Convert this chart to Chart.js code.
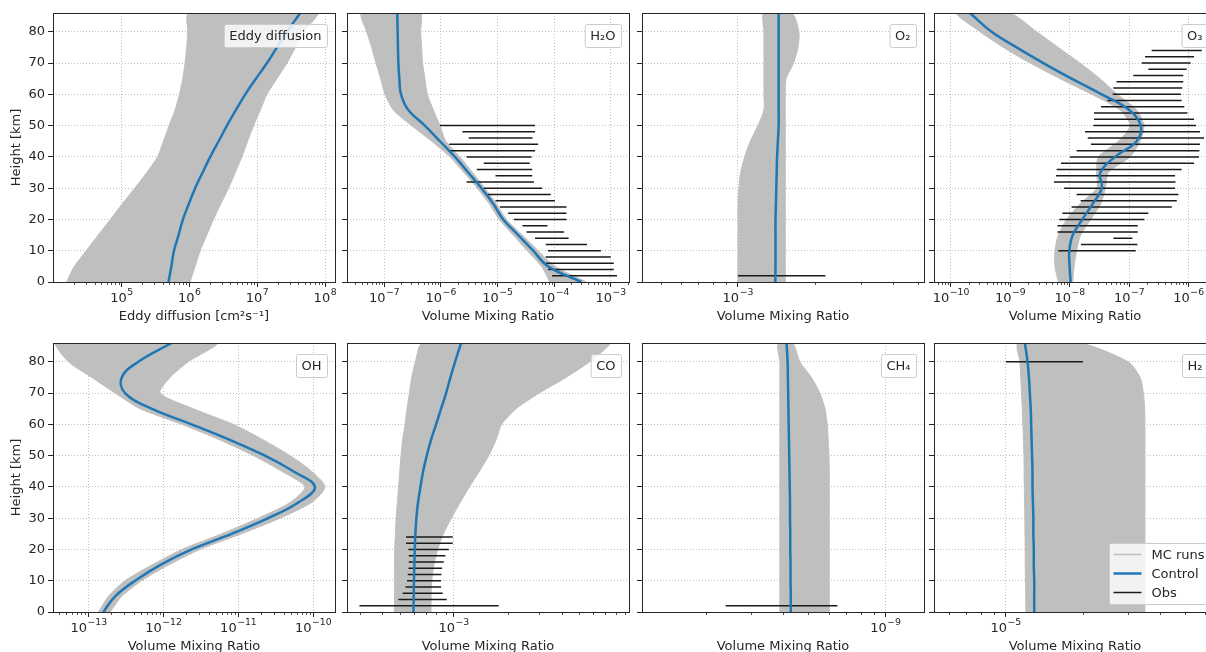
<!DOCTYPE html>
<html>
<head>
<meta charset="utf-8">
<script src="https://cdn.jsdelivr.net/npm/chart.js@4.4.0/dist/chart.umd.min.js"></script>
<style>
  body { margin: 0; background: #fff; overflow: hidden; }
  #fig { position: relative; width: 1206px; height: 652px; overflow: hidden; }
  #fig canvas { position: absolute; }
</style>
</head>
<body>
<div id="fig"></div>
<script>
// heights of the model levels [km]
var H = [0, 5, 10, 15, 20, 25, 30, 35, 40, 45, 50, 55, 60, 65, 70, 75, 80, 86];
var heightTicks = [0, 10, 20, 30, 40, 50, 60, 70, 80];

// eddy diffusion [cm2 s-1]: spread of MC runs + control run
var eddyLow  = [1.54e4, 2.0e4, 3.0e4, 4.5e4, 6.8e4, 1.02e5, 1.56e5, 2.34e5, 3.37e5, 4.13e5, 5.0e5, 6.14e5, 7.1e5, 7.96e5, 8.6e5, 9.1e5, 9.4e5, 9.8e5];
var eddyHigh = [1.02e6, 1.21e6, 1.44e6, 1.80e6, 2.26e6, 2.9e6, 3.77e6, 4.73e6, 5.93e6, 7.2e6, 8.83e6, 1.11e7, 1.39e7, 1.95e7, 2.74e7, 3.65e7, 4.84e7, 7.6e7];
var eddyCtrl = [4.9e5, 5.4e5, 5.9e5, 6.9e5, 8.0e5, 9.8e5, 1.21e6, 1.56e6, 2.02e6, 2.69e6, 3.56e6, 4.84e6, 6.65e6, 9.55e6, 1.39e7, 1.95e7, 2.74e7, 4.3e7];
var eddyTicks = [1e5, 1e6, 1e7, 1e8];

// H2O
var h2oLow  = [8.4e-5, 5.97e-5, 3.34e-5, 1.89e-5, 1.07e-5, 7.13e-6, 4.38e-6, 2.55e-6, 1.44e-6, 6.84e-7, 3.03e-7, 1.44e-7, 1.03e-7, 8.61e-8, 7.13e-8, 5.97e-8, 4.88e-8, 3.98e-8];
var h2oHigh = [3.72e-4, 1.03e-4, 5.22e-5, 2.76e-5, 1.44e-5, 9.6e-6, 5.97e-6, 3.62e-6, 2.16e-6, 1.22e-6, 9.6e-7, 7.33e-7, 5.74e-7, 5.22e-7, 4.74e-7, 4.56e-7, 4.38e-7, 4.26e-7];
var h2oCtrl = [3.03e-4, 7.8e-5, 4.26e-5, 2.32e-5, 1.26e-5, 8.4e-6, 5.2e-6, 3.03e-6, 1.77e-6, 9.6e-7, 5.2e-7, 2.65e-7, 1.97e-7, 1.84e-7, 1.77e-7, 1.74e-7, 1.72e-7, 1.69e-7];
var h2oObsH  = [2, 4, 6, 8, 10, 12, 14, 16, 18, 20, 22, 24, 26, 28, 30, 32, 34, 36, 38, 40, 42, 44, 46, 48, 50];
var h2oObsLo = [9.2e-5, 7.8e-5, 7.1e-5, 7.1e-5, 7.8e-5, 7.1e-5, 4.6e-5, 3.25e-5, 2.76e-5, 1.94e-5, 1.54e-5, 1.10e-5, 9.2e-6, 6.8e-6, 5.7e-6, 2.84e-6, 9.2e-6, 4.3e-6, 5.7e-6, 2.84e-6, 1.35e-6, 1.40e-6, 3.1e-6, 2.4e-6, 9.6e-7];
var h2oObsHi = [1.29e-3, 1.13e-3, 1.13e-3, 1.0e-3, 6.7e-4, 3.8e-4, 1.8e-4, 1.5e-4, 7.6e-5, 1.65e-4, 1.65e-4, 1.65e-4, 1.03e-4, 8.7e-5, 6.1e-5, 4.4e-5, 4.1e-5, 4.1e-5, 3.7e-5, 4.0e-5, 4.6e-5, 5.2e-5, 4.15e-5, 4.6e-5, 4.6e-5];
var h2oTicks = [1e-7, 1e-6, 1e-5, 1e-4, 1e-3];

// O2
var o2Low  = [1.0e-3, 1.0e-3, 1.0e-3, 1.0e-3, 1.0e-3, 1.0e-3, 1.009e-3, 1.024e-3, 1.062e-3, 1.117e-3, 1.196e-3, 1.262e-3, 1.262e-3, 1.262e-3, 1.262e-3, 1.262e-3, 1.262e-3, 1.262e-3];
var o2High = [1.528e-3, 1.528e-3, 1.528e-3, 1.528e-3, 1.528e-3, 1.528e-3, 1.528e-3, 1.528e-3, 1.528e-3, 1.528e-3, 1.528e-3, 1.528e-3, 1.528e-3, 1.54e-3, 1.646e-3, 1.712e-3, 1.727e-3, 1.62e-3];
var o2Ctrl = [1.397e-3, 1.40e-3, 1.40e-3, 1.40e-3, 1.40e-3, 1.405e-3, 1.41e-3, 1.415e-3, 1.42e-3, 1.43e-3, 1.44e-3, 1.44e-3, 1.44e-3, 1.44e-3, 1.44e-3, 1.44e-3, 1.44e-3, 1.44e-3];
var o2ObsH = [2], o2ObsLo = [1.0e-3], o2ObsHi = [2.19e-3];
var o2Ticks = [1e-3];

// O3
var o3Low  = [6.4e-9, 5.62e-9, 5.62e-9, 6.4e-9, 8.85e-9, 1.48e-8, 2.83e-8, 2.83e-8, 3.02e-8, 6.55e-8, 1.03e-7, 6.98e-8, 2.33e-8, 6.84e-9, 2.14e-9, 7.6e-10, 3.08e-10, 1.25e-10];
var o3High = [1.12e-8, 1.18e-8, 1.30e-8, 1.52e-8, 2.24e-8, 3.31e-8, 3.96e-8, 4.44e-8, 1.03e-7, 1.52e-7, 1.77e-7, 1.33e-7, 6.3e-8, 3.22e-8, 1.48e-8, 6.4e-9, 2.77e-9, 9.6e-10];
var o3Ctrl = [1.03e-8, 9.9e-9, 9.8e-9, 1.12e-8, 1.62e-8, 2.42e-8, 3.44e-8, 3.26e-8, 5.75e-8, 1.33e-7, 1.56e-7, 1.0e-7, 3.44e-8, 1.07e-8, 3.58e-9, 1.27e-9, 4.83e-10, 2.09e-10];
var o3ObsH  = [10, 12, 14, 16, 18, 20, 22, 24, 26, 28, 30, 32, 34, 36, 38, 40, 42, 44, 46, 48, 50, 52, 54, 56, 58, 60, 62, 64, 66, 68, 70, 72, 74];
var o3ObsLo = [6.4e-9, 1.54e-8, 5.4e-8, 6.2e-9, 6.2e-9, 6.65e-9, 7.5e-9, 1.07e-8, 1.52e-8, 1.30e-8, 8.0e-9, 5.4e-9, 5.85e-9, 6.0e-9, 7.1e-9, 1.01e-8, 1.30e-8, 2.27e-8, 2.0e-8, 1.80e-8, 2.49e-8, 2.55e-8, 2.55e-8, 3.35e-8, 4.28e-8, 5.26e-8, 5.4e-8, 6.1e-8, 1.17e-7, 2.09e-7, 1.62e-7, 1.84e-7, 2.38e-7];
var o3ObsHi = [1.28e-7, 1.37e-7, 1.13e-7, 1.39e-7, 1.39e-7, 1.79e-7, 2.09e-7, 5.2e-7, 6.3e-7, 6.7e-7, 5.9e-7, 6.0e-7, 5.9e-7, 7.6e-7, 1.23e-6, 1.49e-6, 1.51e-6, 1.55e-6, 1.81e-6, 1.55e-6, 1.33e-6, 1.23e-6, 9.5e-7, 8.45e-7, 7.6e-7, 7.4e-7, 7.8e-7, 8.1e-7, 8.1e-7, 9.25e-7, 1.08e-6, 1.23e-6, 1.66e-6];
var o3Ticks = [1e-10, 1e-9, 1e-8, 1e-7, 1e-6];

// OH
var ohLow  = [1.35e-13, 1.83e-13, 3.05e-13, 6.93e-13, 1.75e-12, 5.97e-12, 1.84e-11, 4.88e-11, 7.73e-11, 3.78e-11, 1.58e-11, 5.66e-12, 1.75e-12, 4.84e-13, 2.25e-13, 1.10e-13, 5.36e-14, 3.56e-14];
var ohHigh = [1.93e-13, 2.76e-13, 5.1e-13, 1.16e-12, 3.06e-12, 1.10e-11, 3.59e-11, 9.48e-11, 1.43e-10, 9.48e-11, 4.88e-11, 2.15e-11, 8.53e-12, 2.49e-12, 8.96e-13, 1.22e-12, 2.14e-12, 5.12e-12];
var ohCtrl = [1.57e-13, 2.25e-13, 4.16e-13, 8.96e-13, 2.37e-12, 8.1e-12, 2.5e-11, 6.3e-11, 1.05e-10, 5.4e-11, 2.26e-11, 7.7e-12, 2.37e-12, 6.9e-13, 3.05e-13, 2.76e-13, 4.6e-13, 1.28e-12];
var ohTicks = [1e-13, 1e-12, 1e-11, 1e-10];

// CO
var coLow  = [4.67e-4, 4.67e-4, 4.67e-4, 4.67e-4, 4.68e-4, 4.73e-4, 4.77e-4, 4.85e-4, 4.93e-4, 5.0e-4, 5.08e-4, 5.19e-4, 5.35e-4, 5.49e-4, 5.66e-4, 5.83e-4, 6.11e-4, 6.72e-4];
var coHigh = [7.47e-4, 7.47e-4, 7.54e-4, 7.74e-4, 8.14e-4, 8.76e-4, 9.70e-4, 1.085e-3, 1.223e-3, 1.39e-3, 1.567e-3, 1.72e-3, 1.85e-3, 2.23e-3, 3.0e-3, 4.23e-3, 5.71e-3, 7.31e-3];
var coCtrl = [5.96e-4, 5.98e-4, 6.0e-4, 6.03e-4, 6.06e-4, 6.11e-4, 6.19e-4, 6.32e-4, 6.52e-4, 6.75e-4, 7.07e-4, 7.47e-4, 7.97e-4, 8.50e-4, 9.06e-4, 9.58e-4, 1.017e-3, 1.099e-3];
var coObsH  = [2, 4, 6, 8, 10, 12, 14, 16, 18, 20, 22, 24];
var coObsLo = [2.98e-4, 4.91e-4, 5.19e-4, 5.38e-4, 5.49e-4, 5.54e-4, 5.59e-4, 5.61e-4, 5.61e-4, 5.59e-4, 5.42e-4, 5.42e-4];
var coObsHi = [1.78e-3, 9.14e-4, 8.68e-4, 8.50e-4, 8.50e-4, 8.54e-4, 8.61e-4, 8.80e-4, 8.98e-4, 9.38e-4, 9.87e-4, 9.87e-4];
var coTicks = [1e-3];

// CH4
var ch4Low  = [3.88e-10, 3.88e-10, 3.88e-10, 3.88e-10, 3.88e-10, 3.88e-10, 3.88e-10, 3.88e-10, 3.88e-10, 3.88e-10, 3.88e-10, 3.88e-10, 3.88e-10, 3.88e-10, 3.88e-10, 3.88e-10, 3.88e-10, 3.82e-10];
var ch4High = [6.04e-10, 6.04e-10, 6.04e-10, 6.04e-10, 6.04e-10, 6.04e-10, 6.04e-10, 6.04e-10, 6.04e-10, 6.04e-10, 6.02e-10, 5.98e-10, 5.93e-10, 5.81e-10, 5.55e-10, 5.15e-10, 4.64e-10, 4.35e-10];
var ch4Ctrl = [4.28e-10, 4.28e-10, 4.27e-10, 4.27e-10, 4.26e-10, 4.26e-10, 4.25e-10, 4.25e-10, 4.24e-10, 4.23e-10, 4.22e-10, 4.21e-10, 4.20e-10, 4.19e-10, 4.18e-10, 4.17e-10, 4.16e-10, 4.12e-10];
var ch4ObsH = [2], ch4ObsLo = [2.39e-10], ch4ObsHi = [6.5e-10];
var ch4Ticks = [1e-9];

// H2
var h2Low  = [1.197e-5, 1.195e-5, 1.193e-5, 1.19e-5, 1.19e-5, 1.187e-5, 1.186e-5, 1.183e-5, 1.18e-5, 1.178e-5, 1.176e-5, 1.17e-5, 1.165e-5, 1.158e-5, 1.151e-5, 1.143e-5, 1.134e-5, 1.117e-5];
var h2High = [3.49e-5, 3.49e-5, 3.49e-5, 3.49e-5, 3.49e-5, 3.49e-5, 3.49e-5, 3.49e-5, 3.49e-5, 3.49e-5, 3.49e-5, 3.49e-5, 3.49e-5, 3.48e-5, 3.44e-5, 3.34e-5, 3.0e-5, 1.95e-5];
var h2Ctrl = [1.29e-5, 1.29e-5, 1.29e-5, 1.285e-5, 1.285e-5, 1.28e-5, 1.28e-5, 1.275e-5, 1.27e-5, 1.27e-5, 1.265e-5, 1.26e-5, 1.255e-5, 1.25e-5, 1.24e-5, 1.23e-5, 1.215e-5, 1.186e-5];
var h2ObsH = [80], h2ObsLo = [1.0e-5], h2ObsHi = [2.0e-5];
var h2Ticks = [1e-5];

var FONT = '"DejaVu Sans", sans-serif';
var TXT = '#262626';
var GREY = '#bfbfbf', BLUE = '#1f77b4', OBS = '#1a1a1a';

function linePts(xs) {
  return xs.map(function (x, i) { return {x: x, y: H[i]}; });
}
// closed outline: low side going up, high side coming back down
function bandPts(lo, hi) {
  return linePts(lo).concat(linePts(hi).reverse());
}
// one short horizontal segment per observation, broken by gaps
function obsPts(lo, hi, hs) {
  var out = [];
  for (var i = 0; i < hs.length; i++) {
    out.push({x: lo[i], y: hs[i]}, {x: hi[i], y: hs[i]}, {x: null, y: null});
  }
  return out;
}

function boxPath(ctx, x, y, w, h, r) {
  ctx.beginPath();
  ctx.moveTo(x + r, y);
  ctx.lineTo(x + w - r, y); ctx.quadraticCurveTo(x + w, y, x + w, y + r);
  ctx.lineTo(x + w, y + h - r); ctx.quadraticCurveTo(x + w, y + h, x + w - r, y + h);
  ctx.lineTo(x + r, y + h); ctx.quadraticCurveTo(x, y + h, x, y + h - r);
  ctx.lineTo(x, y + r); ctx.quadraticCurveTo(x, y, x + r, y);
  ctx.closePath();
}

// minor log ticks, 10^n tick labels, axes frame, species tag and the legend
var decor = {
  id: 'decor',
  afterDraw: function (chart, args, opts) {
    var ctx = chart.ctx, a = chart.chartArea, xs = chart.scales.x;
    ctx.save();

    ctx.strokeStyle = TXT;
    ctx.lineWidth = 0.8;
    var k0 = Math.floor(Math.log10(xs.min)), k1 = Math.ceil(Math.log10(xs.max));
    for (var k = k0; k <= k1; k++) {
      for (var m = 2; m < 10; m++) {
        var v = m * Math.pow(10, k);
        if (v < xs.min || v > xs.max) continue;
        var px = Math.round(xs.getPixelForValue(v)) + 0.5;
        ctx.beginPath(); ctx.moveTo(px, a.bottom); ctx.lineTo(px, a.bottom + 3); ctx.stroke();
      }
    }

    // decade labels with a raised exponent
    ctx.fillStyle = TXT;
    ctx.textAlign = 'left';
    ctx.textBaseline = 'alphabetic';
    xs.ticks.forEach(function (t) {
      var ex = String(Math.round(Math.log10(t.value))).replace('-', '\u2212');
      ctx.font = '13px ' + FONT;
      var wb = ctx.measureText('10').width;
      ctx.font = '9.3px ' + FONT;
      var we = ctx.measureText(ex).width;
      var x0 = xs.getPixelForValue(t.value) - (wb + we + 0.5) / 2;
      ctx.font = '13px ' + FONT;
      ctx.fillText('10', x0, a.bottom + 19.5);
      ctx.font = '9.3px ' + FONT;
      ctx.fillText(ex, x0 + wb + 0.5, a.bottom + 13);
    });

    ctx.lineWidth = 1;
    ctx.strokeRect(Math.round(a.left) + 0.5, Math.round(a.top) + 0.5,
                   Math.round(a.right - a.left), Math.round(a.bottom - a.top));

    ctx.font = '13px ' + FONT;
    ctx.textBaseline = 'middle';
    if (opts.label) {
      var tw = ctx.measureText(opts.label).width;
      var bw = tw + 11, bh = 23, bx = a.right - 8 - bw, by = a.top + 11;
      boxPath(ctx, bx + 0.5, by + 0.5, bw, bh, 2);
      ctx.fillStyle = 'rgba(255,255,255,0.8)'; ctx.fill();
      ctx.strokeStyle = '#cccccc'; ctx.stroke();
      ctx.fillStyle = TXT;
      ctx.fillText(opts.label, bx + 5.5, by + bh / 2 + 1);
    }

    if (opts.legend) {
      var lw = 99, lh = 61, lx = a.right - 8 - lw, ly = a.bottom - 8 - lh;
      boxPath(ctx, lx + 0.5, ly + 0.5, lw, lh, 2);
      ctx.fillStyle = 'rgba(255,255,255,0.8)'; ctx.fill();
      ctx.strokeStyle = '#cccccc'; ctx.lineWidth = 1; ctx.stroke();
      var items = [['MC runs', GREY, 1.5], ['Control', BLUE, 2.5], ['Obs', OBS, 1.5]];
      items.forEach(function (it, i) {
        var yy = ly + 11.5 + i * 19;
        ctx.strokeStyle = it[1]; ctx.lineWidth = it[2];
        ctx.beginPath(); ctx.moveTo(lx + 4.5, yy); ctx.lineTo(lx + 32.5, yy); ctx.stroke();
        ctx.fillStyle = TXT;
        ctx.fillText(it[0], lx + 42.5, yy + 1);
      });
    }
    ctx.restore();
  }
};

var FIG = document.getElementById('fig');
var COL_LEFT = [53, 347, 642, 934];
var ROW_TOP = [13, 343];

function addPanel(p) {
  var left = COL_LEFT[p.col], top = ROW_TOP[p.row];
  var cv = document.createElement('canvas');
  cv.width = 349; cv.height = 332;
  cv.style.left = (left - 55) + 'px';
  cv.style.top = (top - 13) + 'px';
  FIG.appendChild(cv);

  var sets = [
    {data: bandPts(p.lo, p.hi), fill: 'shape', backgroundColor: GREY, borderColor: GREY,
     borderWidth: 1, pointRadius: 0, tension: 0.25, order: 3},
    {data: linePts(p.ctrl), borderColor: BLUE, borderWidth: 2.5, pointRadius: 0,
     tension: 0.4, fill: false, order: 1}
  ];
  if (p.obsH) {
    sets.push({data: obsPts(p.obsLo, p.obsHi, p.obsH), borderColor: OBS, borderWidth: 1.5,
               pointRadius: 0, tension: 0, fill: false, order: 2});
  }

  var font = {family: FONT, size: 13};
  function grid() {
    return {color: '#b0b0b0', lineWidth: 0.8, tickColor: TXT, tickLength: 5, tickWidth: 1};
  }
  function border() { return {display: false, dash: [1, 2]}; }

  new Chart(cv, {
    type: 'line',
    data: {datasets: sets},
    options: {
      responsive: false,
      animation: false,
      devicePixelRatio: 1,
      events: [],
      layout: {padding: {left: 0, top: 13, right: 12, bottom: 0}},
      plugins: {
        legend: {display: false},
        tooltip: {enabled: false},
        decor: {label: p.label, legend: !!p.legend}
      },
      scales: {
        x: {
          type: 'logarithmic', position: 'bottom', min: p.xmin, max: p.xmax,
          afterBuildTicks: function (s) { s.ticks = p.ticks.map(function (v) { return {value: v}; }); },
          afterFit: function (s) { s.height = 50; },
          ticks: {display: false, autoSkip: false},
          grid: grid(), border: border(),
          title: {display: true, text: p.xtitle, font: font, color: TXT, padding: {top: 0, bottom: 8}}
        },
        y: {
          type: 'linear', position: 'left', min: 0, max: 86,
          afterBuildTicks: function (s) { s.ticks = heightTicks.map(function (v) { return {value: v}; }); },
          afterFit: function (s) { s.width = 55; },
          ticks: {display: p.col === 0, font: font, color: TXT, padding: 3},
          grid: grid(), border: border(),
          title: {display: p.col === 0, text: 'Height [km]', font: font, color: TXT, padding: {top: 10.9, bottom: 0}}
        }
      }
    },
    plugins: [decor]
  });
}

var VMR = 'Volume Mixing Ratio';
addPanel({row: 0, col: 0, lo: eddyLow, hi: eddyHigh, ctrl: eddyCtrl, xmin: 9.7e3, xmax: 1.4e8,
          ticks: eddyTicks, label: 'Eddy diffusion', xtitle: 'Eddy diffusion [cm\u00b2s\u207b\u00b9]'});
addPanel({row: 0, col: 1, lo: h2oLow, hi: h2oHigh, ctrl: h2oCtrl, xmin: 2.19e-8, xmax: 2.1e-3,
          obsH: h2oObsH, obsLo: h2oObsLo, obsHi: h2oObsHi, ticks: h2oTicks, label: 'H\u2082O', xtitle: VMR});
addPanel({row: 0, col: 2, lo: o2Low, hi: o2High, ctrl: o2Ctrl, xmin: 4.23e-4, xmax: 5.3e-3,
          obsH: o2ObsH, obsLo: o2ObsLo, obsHi: o2ObsHi, ticks: o2Ticks, label: 'O\u2082', xtitle: VMR});
addPanel({row: 0, col: 3, lo: o3Low, hi: o3High, ctrl: o3Ctrl, xmin: 5.18e-11, xmax: 2.88e-6,
          obsH: o3ObsH, obsLo: o3ObsLo, obsHi: o3ObsHi, ticks: o3Ticks, label: 'O\u2083', xtitle: VMR});
addPanel({row: 1, col: 0, lo: ohLow, hi: ohHigh, ctrl: ohCtrl, xmin: 3.33e-14, xmax: 1.95e-10,
          ticks: ohTicks, label: 'OH', xtitle: VMR});
addPanel({row: 1, col: 1, lo: coLow, hi: coHigh, ctrl: coCtrl, xmin: 2.54e-4, xmax: 9.48e-3,
          obsH: coObsH, obsLo: coObsLo, obsHi: coObsHi, ticks: coTicks, label: 'CO', xtitle: VMR});
addPanel({row: 1, col: 2, lo: ch4Low, hi: ch4High, ctrl: ch4Ctrl, xmin: 1.13e-10, xmax: 1.41e-9,
          obsH: ch4ObsH, obsLo: ch4ObsLo, obsHi: ch4ObsHi, ticks: ch4Ticks, label: 'CH\u2084', xtitle: VMR});
addPanel({row: 1, col: 3, lo: h2Low, hi: h2High, ctrl: h2Ctrl, xmin: 5.24e-6, xmax: 6.61e-5,
          obsH: h2ObsH, obsLo: h2ObsLo, obsHi: h2ObsHi, ticks: h2Ticks, label: 'H\u2082', xtitle: VMR,
          legend: true});
</script>
</body>
</html>
